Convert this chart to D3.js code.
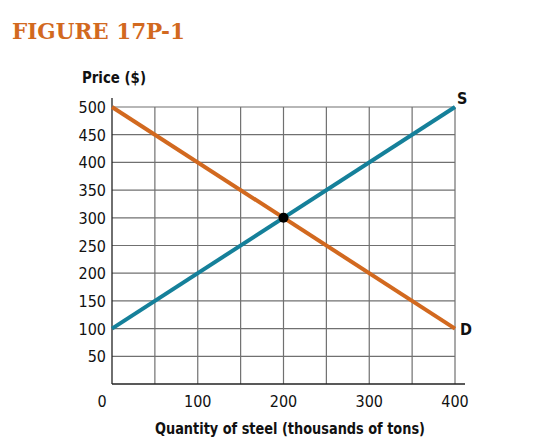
<!DOCTYPE html>
<html>
<head>
<meta charset="utf-8">
<script src="https://cdn.jsdelivr.net/npm/d3@7"></script>
<style>
  body { margin: 0; background: #fff; }
  .cond { font-family: "Liberation Sans Narrow", "DejaVu Sans Condensed", sans-serif; }
</style>
</head>
<body>
<div class="container"></div>
<script>
const w = 548;
const h = 445;

// curves: quantity (thousands of tons) -> price ($)
const quantity = [0, 400];
const supply = [100, 500];
const demand = [500, 100];
const equilibrium = { q: 200, p: 300 };

const xTicks = [0, 100, 200, 300, 400];
const yTicks = [50, 100, 150, 200, 250, 300, 350, 400, 450, 500];
const gridX = [50, 100, 150, 200, 250, 300, 350, 400];
const gridY = [50, 100, 150, 200, 250, 300, 350, 400, 450, 500];

const orange = '#d2691f';
const teal = '#15809a';

const x = d3.scaleLinear().domain([0, 400]).range([112, 455]);
const y = d3.scaleLinear().domain([0, 500]).range([384, 107]);

const svg = d3.select('.container').append('svg')
  .attr('width', w)
  .attr('height', h);

// title
svg.append('text')
  .text('FIGURE 17P-1')
  .attr('x', 12)
  .attr('y', 39)
  .attr('fill', orange)
  .attr('font-family', '"DejaVu Serif", serif')
  .attr('font-weight', 'bold')
  .attr('font-size', '22px')
  .attr('textLength', 173)
  .attr('lengthAdjust', 'spacingAndGlyphs');

// grid
svg.append('g').selectAll('line').data(gridY).enter().append('line')
  .attr('x1', x(0)).attr('x2', x(400))
  .attr('y1', d => y(d)).attr('y2', d => y(d))
  .attr('stroke', '#707070').attr('stroke-width', 1.2);

svg.append('g').selectAll('line').data(gridX).enter().append('line')
  .attr('x1', d => x(d)).attr('x2', d => x(d))
  .attr('y1', y(0)).attr('y2', y(500))
  .attr('stroke', '#707070').attr('stroke-width', 1.2);

// axes lines
svg.append('line')
  .attr('x1', x(0)).attr('x2', x(0))
  .attr('y1', y(0)).attr('y2', y(500) - 9)
  .attr('stroke', '#222').attr('stroke-width', 1.3);
svg.append('line')
  .attr('x1', x(0)).attr('x2', x(400) + 10)
  .attr('y1', y(0)).attr('y2', y(0))
  .attr('stroke', '#222').attr('stroke-width', 1.3);

// tick labels
svg.append('g').attr('class', 'cond').selectAll('text').data(yTicks).enter().append('text')
  .text(d => d)
  .attr('x', 106)
  .attr('y', d => y(d) + 6)
  .attr('text-anchor', 'end')
  .attr('font-size', '16px')
  .attr('fill', '#111');

svg.append('g').attr('class', 'cond').selectAll('text').data(xTicks).enter().append('text')
  .text(d => d)
  .attr('x', d => d === 0 ? x(d) - 10 : x(d))
  .attr('y', 407)
  .attr('text-anchor', 'middle')
  .attr('font-size', '16px')
  .attr('fill', '#111');

// axis titles
svg.append('text').attr('class', 'cond')
  .text('Price ($)')
  .attr('x', 82)
  .attr('y', 83)
  .attr('font-weight', 'bold')
  .attr('font-size', '16px')
  .attr('fill', '#111')
  .attr('textLength', 64)
  .attr('lengthAdjust', 'spacingAndGlyphs');

svg.append('text').attr('class', 'cond')
  .text('Quantity of steel (thousands of tons)')
  .attr('x', 155)
  .attr('y', 434)
  .attr('font-weight', 'bold')
  .attr('font-size', '16px')
  .attr('fill', '#111')
  .attr('textLength', 270)
  .attr('lengthAdjust', 'spacingAndGlyphs');

// curves
const line = d3.line().x(d => x(d[0])).y(d => y(d[1]));

svg.append('path')
  .datum(d3.zip(quantity, demand))
  .attr('d', line)
  .attr('fill', 'none')
  .attr('stroke', orange)
  .attr('stroke-width', 4);

svg.append('path')
  .datum(d3.zip(quantity, supply))
  .attr('d', line)
  .attr('fill', 'none')
  .attr('stroke', teal)
  .attr('stroke-width', 4);

svg.append('circle')
  .attr('cx', x(equilibrium.q))
  .attr('cy', y(equilibrium.p))
  .attr('r', 5)
  .attr('fill', '#000');

// curve labels
svg.append('text').attr('class', 'cond')
  .text('S')
  .attr('x', x(400) + 2)
  .attr('y', y(supply[1]) - 3)
  .attr('font-weight', 'bold')
  .attr('font-size', '16px')
  .attr('fill', '#111');

svg.append('text').attr('class', 'cond')
  .text('D')
  .attr('x', x(400) + 5)
  .attr('y', y(demand[1]) + 6)
  .attr('font-weight', 'bold')
  .attr('font-size', '16px')
  .attr('fill', '#111');
</script>
</body>
</html>
